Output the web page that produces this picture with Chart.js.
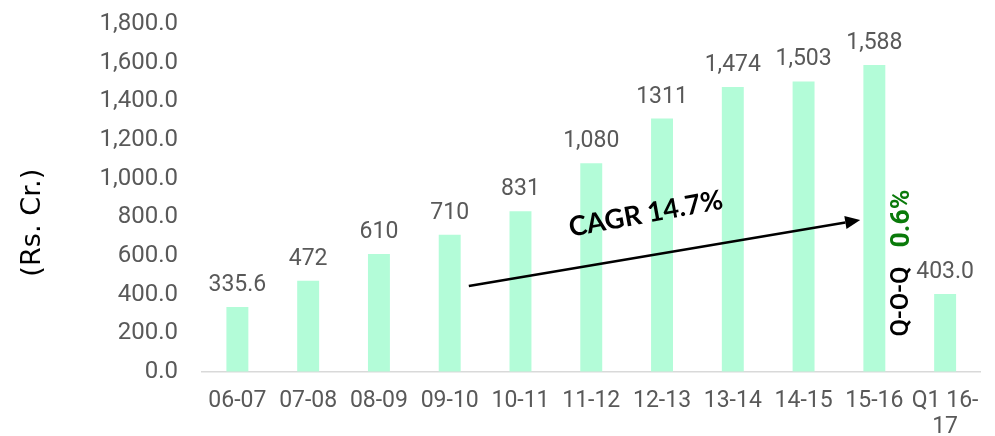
<!DOCTYPE html>
<html>
<head>
<meta charset="utf-8">
<script src="https://cdn.jsdelivr.net/npm/chart.js@4/dist/chart.umd.min.js"></script>
<style>
  html, body { margin: 0; padding: 0; background: #ffffff; }
  #wrap { width: 995px; height: 436px; }
</style>
</head>
<body>
<div id="wrap"><canvas id="c" width="995" height="436"></canvas></div>
<script>
const categories = ["06-07", "07-08", "08-09", "09-10", "10-11", "11-12", "12-13", "13-14", "14-15", "15-16", ["Q1 16-", "17"]];
const revenue = [335.6, 472, 610, 710, 831, 1080, 1311, 1474, 1503, 1588, 403];
const valueLabels = ["335.6", "472", "610", "710", "831", "1,080", "1311", "1,474", "1,503", "1,588", "403.0"];
const yTicks = [0, 200, 400, 600, 800, 1000, 1200, 1400, 1600, 1800];
const yTitle = "(Rs. Cr.)";
const cagrText = "CAGR 14.7%";
const qoqText = "Q-O-Q";
const qoqValue = "0.6%";

// annotation anchors in data units: [category index (fractional), value]
const annot = {
  arrowFrom: [3.27, 445],
  arrowTo: [8.8, 786],
  cagrAt: [5.77, 817],
  qoqAt: [9.39, 564],
  titleAt: [-2.89, 772]
};

const TICK_FONT = "Roboto";
const GREY = "#595959";

function px(chart, idx, val) {
  const xs = chart.scales.x, ys = chart.scales.y;
  const step = xs.getPixelForValue(1) - xs.getPixelForValue(0);
  return [xs.getPixelForValue(0) + idx * step, ys.getPixelForValue(val)];
}

function fitFont(ctx, text, weight, family, target) {
  ctx.font = weight + " 20px " + family;
  const w = ctx.measureText(text).width;
  return weight + " " + (20 * target / w).toFixed(2) + "px " + family;
}

const overlay = {
  id: "overlay",
  afterDatasetsDraw(chart) {
    const ctx = chart.ctx;
    const meta = chart.getDatasetMeta(0);
    ctx.save();
    // value labels
    ctx.font = "23px " + TICK_FONT;
    ctx.fillStyle = GREY;
    ctx.textAlign = "center";
    ctx.textBaseline = "alphabetic";
    meta.data.forEach((bar, i) => {
      ctx.fillText(valueLabels[i], bar.x, bar.y - 16);
    });
    // arrow
    const [x1, y1] = px(chart, annot.arrowFrom[0], annot.arrowFrom[1]);
    const [x2, y2] = px(chart, annot.arrowTo[0], annot.arrowTo[1]);
    const ang = Math.atan2(y2 - y1, x2 - x1);
    const headLen = 15, headW = 6.5;
    const bx = x2 - headLen * Math.cos(ang), by = y2 - headLen * Math.sin(ang);
    ctx.strokeStyle = "#000";
    ctx.lineWidth = 2.5;
    ctx.beginPath();
    ctx.moveTo(x1, y1);
    ctx.lineTo(bx, by);
    ctx.stroke();
    ctx.fillStyle = "#000";
    ctx.beginPath();
    ctx.moveTo(x2, y2);
    ctx.lineTo(bx + headW * Math.sin(ang), by - headW * Math.cos(ang));
    ctx.lineTo(bx - headW * Math.sin(ang), by + headW * Math.cos(ang));
    ctx.closePath();
    ctx.fill();
    // CAGR text
    const [cx, cy] = px(chart, annot.cagrAt[0], annot.cagrAt[1]);
    ctx.save();
    ctx.translate(cx, cy);
    ctx.rotate(ang - 0.015);
    ctx.font = fitFont(ctx, cagrText, "bold", "Lato", 156);
    ctx.textAlign = "center";
    ctx.textBaseline = "middle";
    ctx.fillStyle = "#000";
    ctx.fillText(cagrText, 0, 0);
    ctx.restore();
    // Q-O-Q text (vertical)
    const [qx, qy] = px(chart, annot.qoqAt[0], annot.qoqAt[1]);
    ctx.save();
    ctx.translate(qx, qy);
    ctx.rotate(-Math.PI / 2);
    ctx.textBaseline = "middle";
    ctx.textAlign = "left";
    const f1 = fitFont(ctx, qoqText, "500", "Roboto", 70);
    const f2 = fitFont(ctx, qoqValue, "bold", "Roboto", 58);
    const gap = 19;
    const start = -(70 + gap + 58) / 2;
    ctx.font = f1;
    ctx.fillStyle = "#000";
    ctx.fillText(qoqText, start, 0);
    ctx.font = f2;
    ctx.fillStyle = "#0a7a0a";
    ctx.fillText(qoqValue, start + 70 + gap, 0);
    ctx.restore();
    // y axis title
    const [tx, ty] = px(chart, annot.titleAt[0], annot.titleAt[1]);
    ctx.save();
    ctx.translate(tx, ty);
    ctx.rotate(-Math.PI / 2);
    ctx.textAlign = "center";
    ctx.textBaseline = "middle";
    ctx.font = fitFont(ctx, yTitle, "normal", "'DejaVu Sans'", 108);
    ctx.fillStyle = "#000";
    ctx.fillText(yTitle, 0, 0);
    ctx.restore();
    ctx.restore();
  }
};

new Chart(document.getElementById("c"), {
  type: "bar",
  data: {
    labels: categories,
    datasets: [{
      data: revenue,
      backgroundColor: "#b3fcd8",
      borderWidth: 0,
      categoryPercentage: 1.0,
      barPercentage: 0.31
    }]
  },
  options: {
    responsive: false,
    animation: false,
    devicePixelRatio: 1,
    layout: { padding: { top: 24, right: 12, bottom: 0, left: 0 } },
    plugins: { legend: { display: false }, tooltip: { enabled: false } },
    scales: {
      x: {
        grid: { display: false, drawTicks: false },
        border: { display: true, color: "#d9d9d9", width: 1.5 },
        ticks: {
          color: GREY,
          font: { family: TICK_FONT, size: 23, lineHeight: 1.15 },
          padding: 16,
          maxRotation: 0,
          autoSkip: false
        },
        afterFit(s) { s.height = 64; }
      },
      y: {
        min: 0,
        max: 1800,
        afterBuildTicks(s) { s.ticks = yTicks.map(v => ({ value: v })); },
        grid: { display: true, drawOnChartArea: false, drawTicks: true, tickLength: 24, color: "rgba(0,0,0,0)" },
        border: { display: false },
        ticks: {
          color: GREY,
          font: { family: TICK_FONT, size: 24 },
          padding: 0,
          callback: v => Number(v).toLocaleString("en-US", { minimumFractionDigits: 1, maximumFractionDigits: 1 })
        },
        title: { display: false },
        afterFit(s) { s.width = 202; }
      }
    }
  },
  plugins: [overlay]
});
</script>
</body>
</html>
